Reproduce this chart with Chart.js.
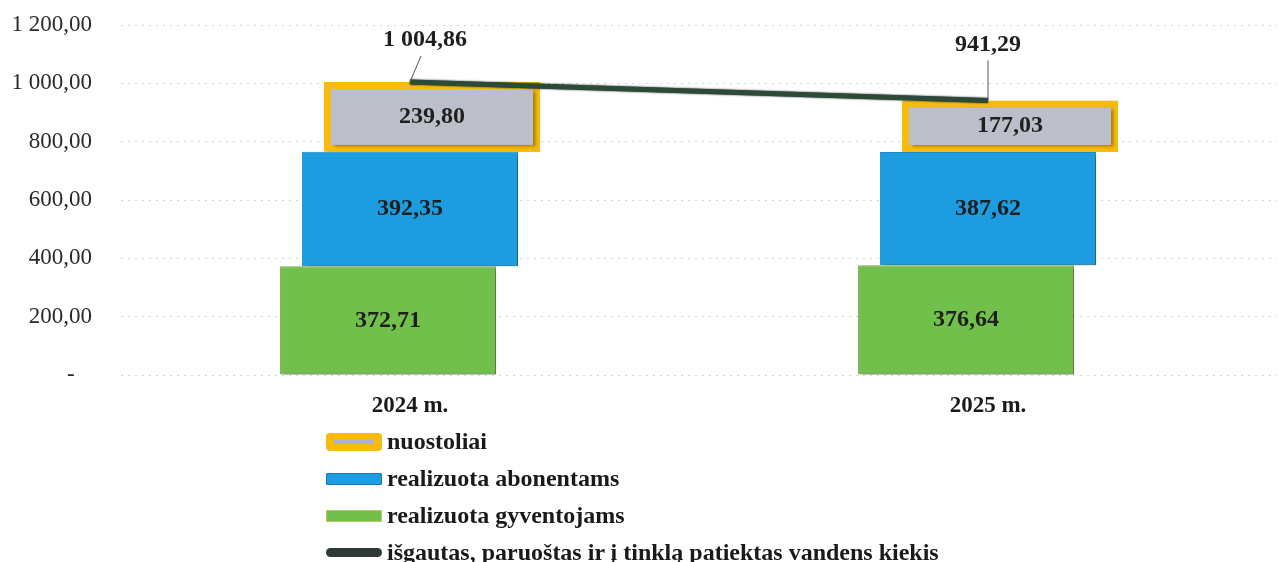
<!DOCTYPE html>
<html>
<head>
<meta charset="utf-8">
<script src="https://cdn.jsdelivr.net/npm/chart.js@4.4.1/dist/chart.umd.min.js"></script>
<style>
  html, body { margin: 0; padding: 0; background: #fff; }
  #wrap { position: relative; width: 1278px; height: 562px; overflow: hidden; }
  #legend { position: absolute; left: 326px; top: 423px; font-family: "Liberation Serif", "DejaVu Serif", serif; font-weight: bold; font-size: 24px; color: #1a1a1a; }
  .li { position: relative; height: 37px; display: flex; align-items: center; white-space: nowrap; }
  .sw { width: 56px; margin-right: 5px; box-sizing: border-box; border-radius: 3px; position: relative; }
</style>
</head>
<body>
<div id="wrap">
  <canvas id="c" width="1278" height="562"></canvas>
  <div id="legend"></div>
</div>
<script>
// ---- data ----
const categories = ['2024 m.', '2025 m.'];
const gyventojams = [372.71, 376.64];
const abonentams = [392.35, 387.62];
const nuostoliai = [239.80, 177.03];
const tiekiamas = [1004.86, 941.29];
const seriesNames = ['realizuota gyventojams', 'realizuota abonentams', 'nuostoliai', 'išgautas, paruoštas ir į tinklą patiektas vandens kiekis'];
const yMin = 0, yMax = 1200, yStep = 200;

// ---- style ----
const SERIF = '"Liberation Serif", "DejaVu Serif", serif';
const lineLabelOffsets = [[15, -42], [0, -56]];

function fmt(v) {
  if (v === 0) return '-';
  const [i, d] = v.toFixed(2).split('.');
  return i.replace(/\B(?=(\d{3})+(?!\d))/g, ' ') + ',' + d;
}

const shiftPlugin = {
  id: 'shift',
  beforeDatasetDraw(chart, args) {
    const ds = chart.data.datasets[args.index];
    const ctx = chart.ctx;
    ctx.save();
    if (ds.xShift) ctx.translate(ds.xShift, 0);
    if (ds.type !== 'line') {
      ctx.shadowColor = 'rgba(0,0,0,0.35)';
      ctx.shadowOffsetX = 3;
      ctx.shadowOffsetY = 2;
      ctx.shadowBlur = 3;
    } else {
      ctx.shadowColor = 'rgba(0,0,0,0.9)';
      ctx.shadowBlur = 2;
    }
  },
  afterDatasetDraw(chart) {
    chart.ctx.restore();
  }
};

const labelPlugin = {
  id: 'labels',
  afterDatasetsDraw(chart) {
    const ctx = chart.ctx;
    ctx.save();
    ctx.fillStyle = '#1f1f1f';
    ctx.textAlign = 'center';
    ctx.textBaseline = 'middle';
    chart.data.datasets.forEach((ds, di) => {
      const meta = chart.getDatasetMeta(di);
      ctx.font = 'bold 24px ' + SERIF;
      if (ds.type === 'line') {
        meta.data.forEach((el, i) => {
          const [ox, oy] = lineLabelOffsets[i];
          const lx = el.x + ox, ly = el.y + oy;
          ctx.fillText(fmt(ds.data[i]), lx, ly);
          ctx.strokeStyle = '#555';
          ctx.lineWidth = 1;
          ctx.beginPath();
          ctx.moveTo(lx - (ox ? 4 : 0), ly + 16);
          ctx.lineTo(el.x, el.y);
          ctx.stroke();
        });
      } else {
        meta.data.forEach((el, i) => {
          ctx.fillText(fmt(ds.data[i]), el.x + (ds.xShift || 0), (el.y + el.base) / 2);
        });
      }
    });
    ctx.restore();
  }
};

const barCommon = { type: 'bar', stack: 's', order: 1, categoryPercentage: 1, barPercentage: 0.374, borderSkipped: false };

const chart = new Chart(document.getElementById('c'), {
  data: {
    labels: categories,
    datasets: [
      Object.assign({}, barCommon, { label: seriesNames[0], data: gyventojams, xShift: -22,
        backgroundColor: '#72c04c', borderColor: '#8fa060', borderWidth: 1 }),
      Object.assign({}, barCommon, { label: seriesNames[1], data: abonentams, xShift: 0,
        backgroundColor: '#1d9de0', borderColor: '#1a8ccb', borderWidth: 1 }),
      Object.assign({}, barCommon, { label: seriesNames[2], data: nuostoliai, xShift: 22,
        backgroundColor: '#bcbec9', borderColor: '#f9bb0a', borderWidth: 7 }),
      { type: 'line', label: seriesNames[3], data: tiekiamas, order: 0,
        borderColor: '#2c4a38', borderWidth: 5, pointRadius: 0, tension: 0 }
    ]
  },
  options: {
    responsive: false,
    animation: false,
    devicePixelRatio: 1,
    layout: { padding: { top: 25, right: 1, left: 0, bottom: 0 } },
    plugins: { legend: { display: false }, tooltip: { enabled: false } },
    scales: {
      x: {
        stacked: true,
        grid: { display: false, drawTicks: false },
        border: { display: false },
        ticks: { color: '#1a1a1a', font: { family: SERIF, size: 23, weight: 'bold' }, padding: 17 },
        afterFit(s) { s.height = 187; }
      },
      y: {
        stacked: true,
        min: yMin, max: yMax,
        ticks: { stepSize: yStep, color: '#2a2a2a', font: { family: SERIF, size: 23 }, padding: 29,
                 callback: v => (v === 0 ? '-   ' : fmt(v)) },
        grid: { color: '#d4d4d4', drawTicks: false, lineWidth: 1 },
        border: { display: false, dash: [2, 5] },
        afterFit(s) { s.width = 121; s.paddingTop = 0; s.paddingBottom = 0; }
      }
    }
  },
  plugins: [shiftPlugin, labelPlugin]
});

// HTML legend (order as in reference)
const legendSpec = [
  { idx: 2, style: 'height:18px;background:#f9bb0a;border-radius:4px;', stripe: '#aab0d8' },
  { idx: 1, style: 'height:12px;background:#1d9de0;border:1px solid #1478b8;border-radius:1px;' },
  { idx: 0, style: 'height:12px;background:#72c04c;border:1px solid #b8c860;border-radius:1px;' },
  { idx: 3, style: 'height:9px;background:#2f3a34;border-radius:5px;' }
];
const legend = document.getElementById('legend');
legendSpec.forEach(s => {
  const row = document.createElement('div');
  row.className = 'li';
  const sw = document.createElement('span');
  sw.className = 'sw';
  sw.setAttribute('style', s.style);
  if (s.stripe) {
    const st = document.createElement('span');
    st.setAttribute('style', 'position:absolute;left:8px;right:8px;top:7px;height:4px;background:' + s.stripe + ';');
    sw.appendChild(st);
  }
  const t = document.createElement('span');
  t.textContent = chart.data.datasets[s.idx].label;
  row.appendChild(sw);
  row.appendChild(t);
  legend.appendChild(row);
});
</script>
</body>
</html>
